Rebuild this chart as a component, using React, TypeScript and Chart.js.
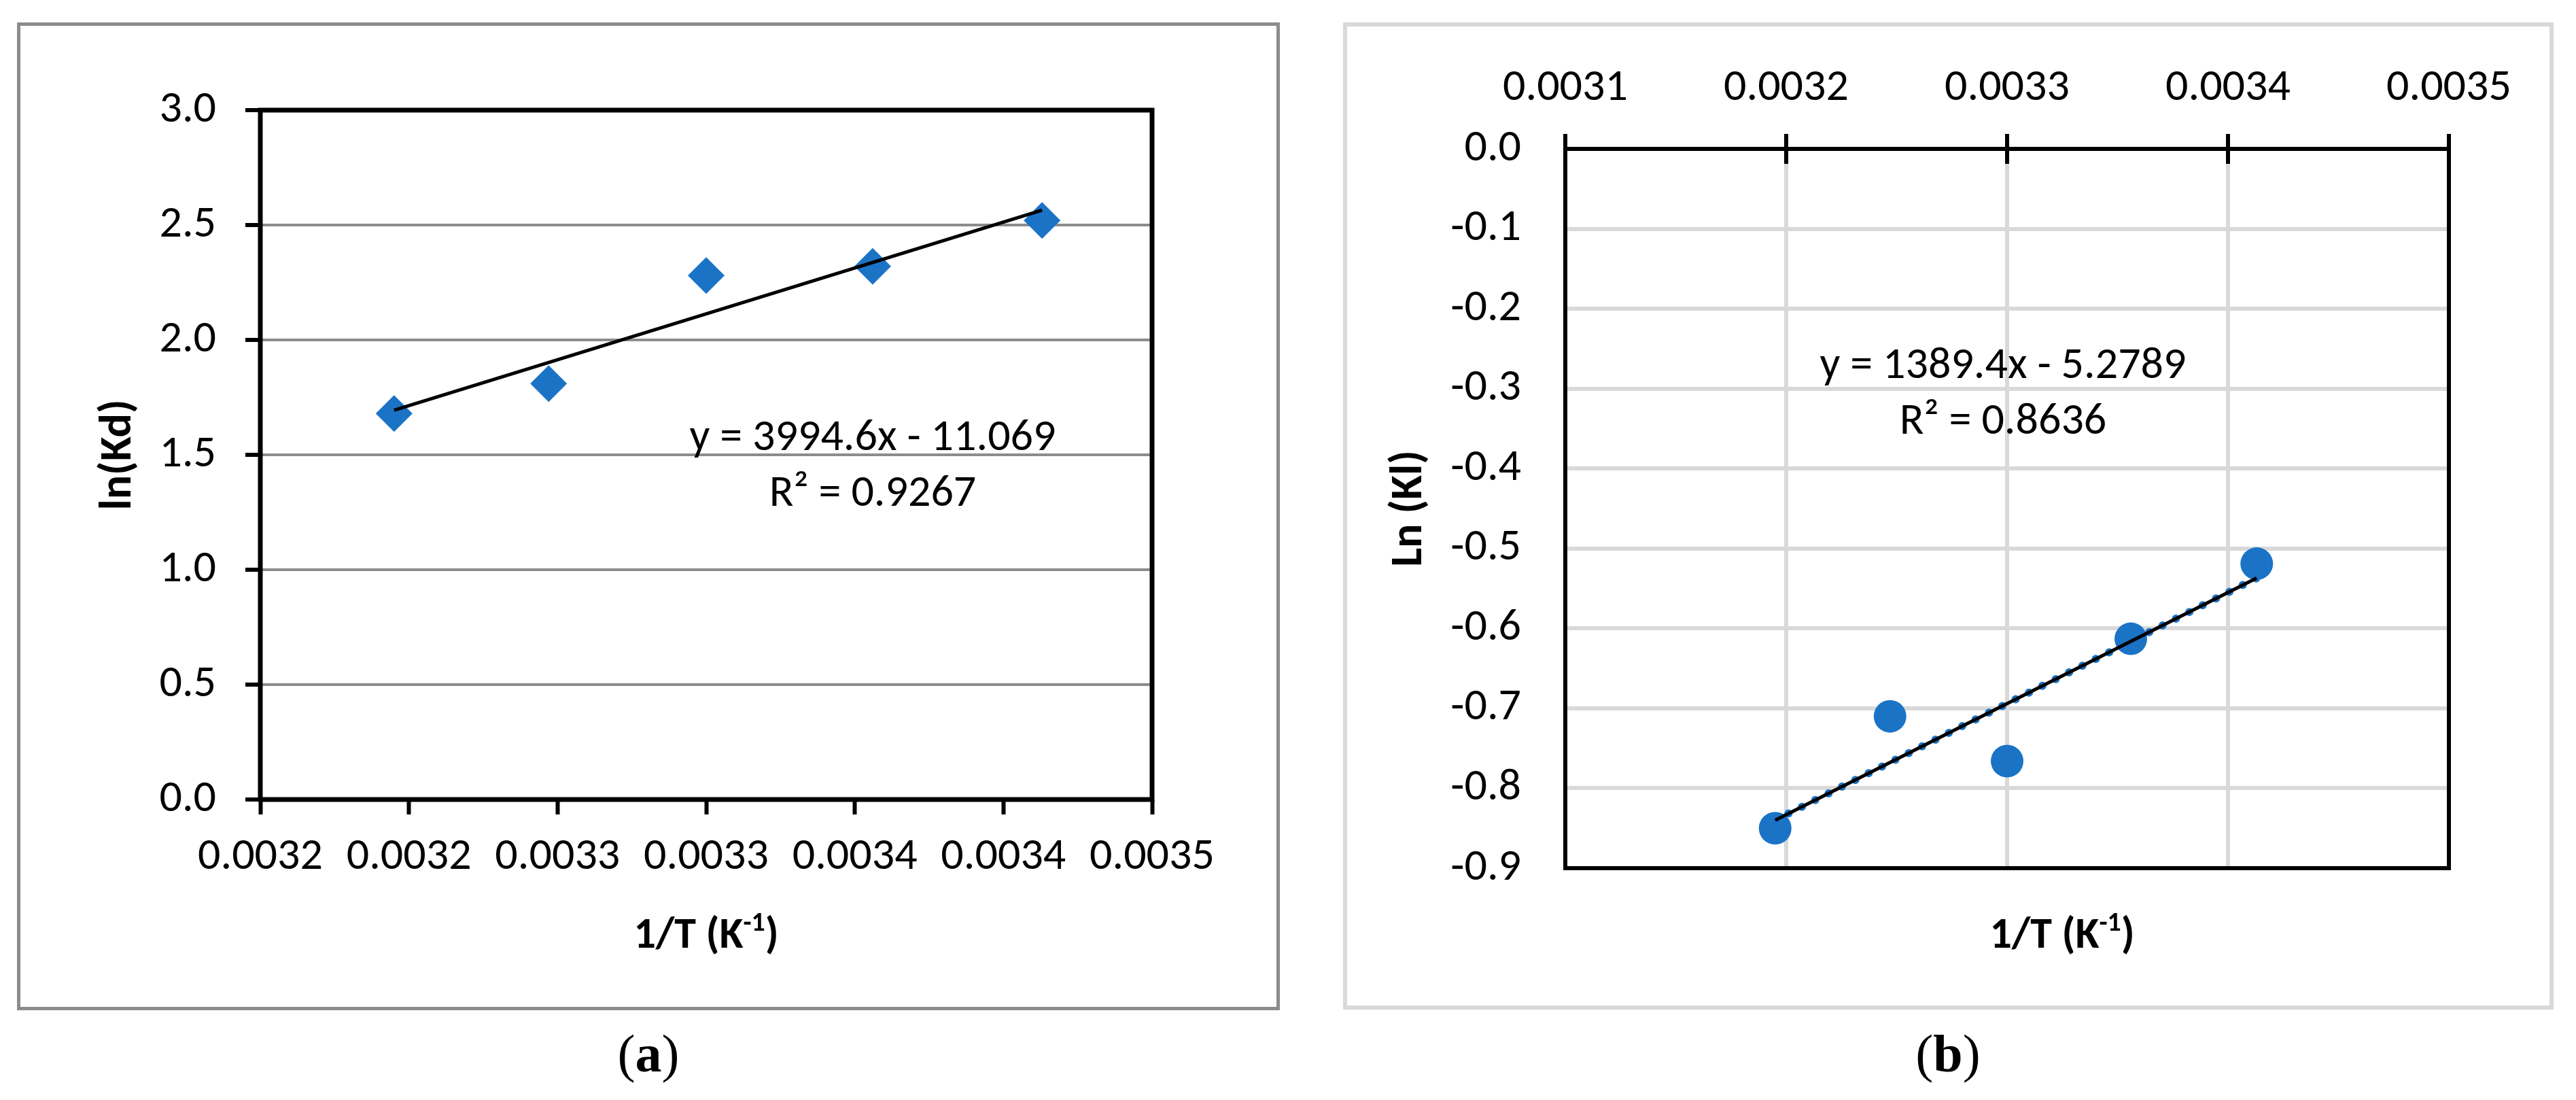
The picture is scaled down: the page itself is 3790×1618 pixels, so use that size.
import React, { useEffect, useRef } from 'react';
import { Chart, registerables } from 'chart.js';

Chart.register(...registerables);

// ---------- data ----------
const invTemp = [0.003195, 0.003247, 0.0033, 0.003356, 0.003413];
const lnKd = [1.68, 1.81, 2.28, 2.32, 2.52];
const lnKl = [-0.85, -0.71, -0.766, -0.613, -0.519];

const trendX = [0.003195, 0.003413];
const trendKd = [1.694, 2.565];
const trendKl = [-0.84, -0.537];

const xTicksA = [0.00315, 0.0032, 0.00325, 0.0033, 0.00335, 0.0034, 0.00345];
const xLabelsA = ['0.0032', '0.0032', '0.0033', '0.0033', '0.0034', '0.0034', '0.0035'];
const yTicksA = [0, 0.5, 1, 1.5, 2, 2.5, 3];
const yLabelsA = ['0.0', '0.5', '1.0', '1.5', '2.0', '2.5', '3.0'];

const xTicksB = [0.0031, 0.0032, 0.0033, 0.0034, 0.0035];
const xLabelsB = ['0.0031', '0.0032', '0.0033', '0.0034', '0.0035'];
const yTicksB = [-0.9, -0.8, -0.7, -0.6, -0.5, -0.4, -0.3, -0.2, -0.1, 0];
const yLabelsB = ['-0.9', '-0.8', '-0.7', '-0.6', '-0.5', '-0.4', '-0.3', '-0.2', '-0.1', '0.0'];

const eqA = ['y = 3994.6x - 11.069', 'R² = 0.9267'];
const eqB = ['y = 1389.4x - 5.2789', 'R² = 0.8636'];

// ---------- styles ----------
const FONT = "'Liberation Sans Narrow', 'Arial Narrow', Carlito, 'Liberation Sans', sans-serif";
const SERIF = "'Liberation Serif', 'DejaVu Serif', serif";
const BLUE = '#1b73c6';

const plotBorder = {
  id: 'plotBorder',
  beforeDatasetsDraw(chart: any, _args: any, opts: any) {
    const { ctx, chartArea } = chart;
    const { left, top, right, bottom } = chartArea;
    ctx.save();
    ctx.strokeStyle = opts.color || '#000';
    ctx.lineWidth = opts.width || 6;
    ctx.strokeRect(left, top, right - left, bottom - top);
    ctx.restore();
  },
};

const crossTicks = {
  id: 'crossTicks',
  beforeDatasetsDraw(chart: any, _args: any, opts: any) {
    const { ctx, chartArea } = chart;
    const scale = chart.scales.x;
    ctx.save();
    ctx.strokeStyle = '#000';
    ctx.lineWidth = opts.width || 6;
    ctx.beginPath();
    scale.ticks.forEach((t: any) => {
      const px = scale.getPixelForValue(t.value);
      ctx.moveTo(px, chartArea.top);
      ctx.lineTo(px, chartArea.top + (opts.length || 22));
    });
    ctx.stroke();
    ctx.restore();
  },
};

function pts(xs: number[], ys: number[]) {
  return xs.map((x, i) => ({ x, y: ys[i] }));
}

function configA(): any {
  return {
    type: 'scatter',
    data: {
      datasets: [
        {
          type: 'scatter',
          data: pts(trendX, trendKd),
          showLine: true,
          borderColor: '#000',
          borderWidth: 5,
          pointRadius: 0,
          order: 0,
        },
        {
          type: 'scatter',
          data: pts(invTemp, lnKd),
          pointStyle: 'rectRot',
          pointRadius: 27,
          backgroundColor: BLUE,
          borderWidth: 0,
          order: 1,
        },
      ],
    },
    plugins: [plotBorder],
    options: {
      animation: false,
      responsive: false,
      devicePixelRatio: 1,
      layout: { padding: { left: 111, top: 129, right: 188, bottom: 79 } },
      plugins: {
        legend: { display: false },
        tooltip: { enabled: false },
        plotBorder: { color: '#000', width: 7 },
      },
      scales: {
        x: {
          type: 'linear',
          position: 'bottom',
          min: 0.00315,
          max: 0.00345,
          afterBuildTicks: (s: any) => {
            s.ticks = xTicksA.map((value) => ({ value }));
          },
          afterFit: (s: any) => {
            s.height = 231;
          },
          ticks: {
            callback: (_v: any, i: number) => xLabelsA[i],
            font: { family: FONT, size: 66 },
            color: '#000',
            padding: 24,
            maxRotation: 0,
            autoSkip: false,
          },
          grid: { drawOnChartArea: false, tickLength: 22, tickWidth: 6, tickColor: '#000' },
          border: { display: false },
        },
        y: {
          type: 'linear',
          min: 0,
          max: 3,
          afterBuildTicks: (s: any) => {
            s.ticks = yTicksA.map((value) => ({ value }));
          },
          afterFit: (s: any) => {
            s.width = 247;
          },
          ticks: {
            callback: (_v: any, i: number) => yLabelsA[i],
            font: { family: FONT, size: 66 },
            color: '#000',
            padding: 43,
            autoSkip: false,
          },
          grid: { color: '#8c8c8c', lineWidth: 4, tickLength: 22, tickWidth: 6, tickColor: '#000' },
          border: { display: false },
          title: {
            display: true,
            text: 'ln(Kd)',
            font: { family: FONT, size: 66, weight: 'bold' },
            color: '#000',
            padding: 0,
          },
        },
      },
    },
  };
}

function configB(): any {
  return {
    type: 'scatter',
    data: {
      datasets: [
        {
          type: 'scatter',
          data: pts(trendX, trendKl),
          showLine: true,
          borderColor: '#000',
          borderWidth: 5,
          pointRadius: 0,
          order: 0,
        },
        {
          type: 'scatter',
          data: pts(trendX, trendKl),
          showLine: true,
          borderColor: BLUE,
          borderWidth: 12,
          borderDash: [0, 22],
          borderCapStyle: 'round',
          pointRadius: 0,
          order: 1,
        },
        {
          type: 'scatter',
          data: pts(invTemp, lnKl),
          pointStyle: 'circle',
          pointRadius: 24,
          backgroundColor: BLUE,
          borderWidth: 0,
          order: 2,
        },
      ],
    },
    plugins: [plotBorder, crossTicks],
    options: {
      animation: false,
      responsive: false,
      devicePixelRatio: 1,
      layout: { padding: { left: 59, top: 58, right: 154, bottom: 208 } },
      plugins: {
        legend: { display: false },
        tooltip: { enabled: false },
        plotBorder: { color: '#000', width: 6 },
        crossTicks: { length: 22, width: 6 },
      },
      scales: {
        x: {
          type: 'linear',
          position: 'top',
          min: 0.0031,
          max: 0.0035,
          afterBuildTicks: (s: any) => {
            s.ticks = xTicksB.map((value) => ({ value }));
          },
          afterFit: (s: any) => {
            s.height = 128;
          },
          ticks: {
            callback: (_v: any, i: number) => xLabelsB[i],
            font: { family: FONT, size: 66 },
            color: '#000',
            padding: 27,
            maxRotation: 0,
            autoSkip: false,
          },
          grid: { color: '#d9d9d9', lineWidth: 6, tickLength: 22, tickWidth: 6, tickColor: '#000' },
          border: { display: false },
        },
        y: {
          type: 'linear',
          min: -0.9,
          max: 0,
          afterBuildTicks: (s: any) => {
            s.ticks = yTicksB.map((value) => ({ value }));
          },
          afterFit: (s: any) => {
            s.width = 268;
          },
          ticks: {
            callback: (_v: any, i: number) => yLabelsB[i],
            font: { family: FONT, size: 66 },
            color: '#000',
            padding: 65,
            autoSkip: false,
          },
          grid: { color: '#d9d9d9', lineWidth: 6, drawTicks: false },
          border: { display: false },
          title: {
            display: true,
            text: 'Ln (Kl)',
            font: { family: FONT, size: 66, weight: 'bold' },
            color: '#000',
            padding: 0,
          },
        },
      },
    },
  };
}

const abs = (left: number, top: number, extra: React.CSSProperties = {}): React.CSSProperties => ({
  position: 'absolute',
  left,
  top,
  ...extra,
});

function CenterText(props: { x: number; y: number; size: number; children: React.ReactNode; family?: string; weight?: string }) {
  return (
    <div
      style={{
        position: 'absolute',
        left: props.x,
        top: props.y,
        transform: 'translate(-50%, -50%)',
        fontFamily: props.family || FONT,
        fontSize: props.size,
        fontWeight: (props.weight as any) || 'normal',
        lineHeight: 1.2,
        whiteSpace: 'nowrap',
        color: '#000',
      }}
    >
      {props.children}
    </div>
  );
}

const supStyle: React.CSSProperties = {
  fontSize: '0.62em',
  verticalAlign: 'baseline',
  position: 'relative',
  top: '-0.62em',
  lineHeight: 0,
};

export default function App() {
  const refA = useRef<HTMLCanvasElement>(null);
  const refB = useRef<HTMLCanvasElement>(null);

  useEffect(() => {
    const a = new Chart(refA.current as HTMLCanvasElement, configA());
    const b = new Chart(refB.current as HTMLCanvasElement, configB());
    return () => {
      a.destroy();
      b.destroy();
    };
  }, []);

  return (
    <div style={{ position: 'absolute', left: 0, top: 0, width: 3790, height: 1618, background: '#fff', overflow: 'hidden' }}>
      {/* panel (a) */}
      <canvas ref={refA} width={1858} height={1453} style={abs(25, 33, { width: 1858, height: 1453 })} />
      <div style={abs(25, 33, { width: 1858, height: 1453, boxSizing: 'border-box', border: '5px solid #8c8c8c', pointerEvents: 'none' })} />
      <CenterText x={1284} y={640} size={66}>{eqA[0]}</CenterText>
      <CenterText x={1284} y={722} size={66}>{eqA[1]}</CenterText>
      <CenterText x={1039} y={1372} size={64} weight="bold">
        1/T (K<span style={supStyle}>-1</span>)
      </CenterText>
      <CenterText x={954} y={1550} size={78} family={SERIF}>
        (<b>a</b>)
      </CenterText>

      {/* panel (b) */}
      <canvas ref={refB} width={1781} height={1452} style={abs(1976, 33, { width: 1781, height: 1452 })} />
      <div style={abs(1976, 33, { width: 1781, height: 1452, boxSizing: 'border-box', border: '6px solid #d9d9d9', pointerEvents: 'none' })} />
      <CenterText x={2947} y={534} size={66}>{eqB[0]}</CenterText>
      <CenterText x={2947} y={616} size={66}>{eqB[1]}</CenterText>
      <CenterText x={3034} y={1372} size={64} weight="bold">
        1/T (K<span style={supStyle}>-1</span>)
      </CenterText>
      <CenterText x={2866} y={1550} size={78} family={SERIF}>
        (<b>b</b>)
      </CenterText>
    </div>
  );
}
